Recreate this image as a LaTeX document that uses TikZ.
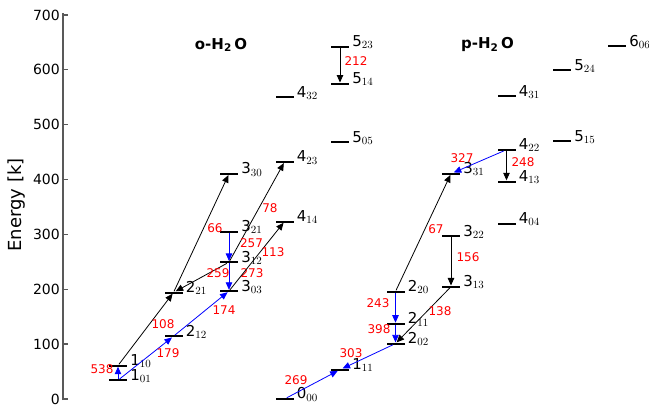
\documentclass[tikz,border=0pt]{standalone}
\usepackage{fontspec}
\setsansfont{DejaVu Sans}
\usetikzlibrary{arrows.meta}

\begin{document}
\begin{tikzpicture}[x=1pt, y=0.5486pt,
    every node/.style={font=\sffamily\fontsize{14}{16}\selectfont},
    lvl/.style={fill=black, minimum width=18pt, minimum height=2pt, inner sep=0pt},
    lvltxt/.style={anchor=base west, inner sep=0pt, font=\sffamily\fontsize{15}{17}\selectfont},
    tr/.style={-{Triangle[length=7.5pt,width=6.5pt]}, line width=0.8pt},
    wl/.style={text=red, inner sep=0pt, font=\sffamily\fontsize{12}{14}\selectfont},
    axis/.style={draw=black!65, line width=1.3pt}]
    \useasboundingbox (0pt,-7pt) rectangle (649pt,399pt);

    % energy axis
    \draw[axis] (63,-2) -- (63,703);
    \foreach \e in {0,100,...,700} {
        \draw[axis] (63,\e) -- (68,\e);
        \node[anchor=east, inner sep=0pt] (t\e) at (60,\e) {\e};
    }
    \node[rotate=90, font=\sffamily\fontsize{18}{20}\selectfont] (ylab) at (17,353.6) {Energy [k]};

    \node[font=\sffamily\bfseries\fontsize{15}{17}\selectfont] (otitle) at (221,645.3) {o-H\textsubscript{2}\,O};
    \node[font=\sffamily\bfseries\fontsize{15}{17}\selectfont] (ptitle) at (487.5,645.3) {p-H\textsubscript{2}\,O};

    % levels: name/x/energy/J/subscript
    \foreach \n/\x/\e/\j/\k in {o101/118/34.2/1/01, o110/118/61.0/1/10,
        o212/173.5/114.4/2/12, o221/173.5/194.1/2/21,
        o303/229/196.8/3/03, o312/229/249.4/3/12, o321/229/305.3/3/21, o330/229/410.4/3/30,
        o414/284.5/323.5/4/14, o423/284.5/432.2/4/23, o432/284.5/550.4/4/32,
        o505/340/468.1/5/05, o514/340/574.7/5/14, o523/340/642.4/5/23,
        p000/284.5/0/0/00, p111/340/53.4/1/11,
        p202/395.5/101.0/2/02, p211/395.5/136.9/2/11, p220/395.5/195.9/2/20,
        p313/451/204.7/3/13, p322/451/296.8/3/22, p331/451/410.7/3/31,
        p404/506.5/319.5/4/04, p413/506.5/396.4/4/13, p422/506.5/454.3/4/22, p431/506.5/552.3/4/31,
        p515/562/469.9/5/15, p524/562/598.8/5/24, p606/617/642.7/6/06} {
        \node[lvl] (\n) at (\x,\e) {};
        \node[lvltxt] (\n t) at ([xshift=3pt]\n.east) {\j$_{\k}$};
    }

    % o-H2O lines
    \draw[tr, blue] (o101) -- (o110) node[wl] (w538) at (102,54.7) {538};
    \draw[tr, blue] (o101) -- (o212) node[wl] (w179) at (168,83.9) {179};
    \draw[tr, blue] (o212) -- (o303) node[wl] (w174) at (224,162.2) {174};
    \draw[tr] (o110) -- (o221) node[wl] (w108) at (163,136.7) {108};
    \draw[tr] (o221) -- (o330) node[wl] (w66) at (215,310.8) {66};
    \draw[tr] (o312) -- (o221) node[wl] (w259) at (218,229.7) {259};
    \draw[tr] (o312) -- (o423) node[wl] (w78) at (270,347.6) {78};
    \draw[tr, blue] (o321) -- (o312) node[wl] (w257) at (251.5,283.8) {257};
    \draw[tr, blue] (o312) -- (o303) node[wl] (w273) at (252,229.7) {273};
    \draw[tr] (o303) -- (o414) node[wl] (w113) at (273,267.4) {113};
    \draw[tr] (o523) -- (o514) node[wl] (w212) at (356,616.1) {212};

    % p-H2O lines
    \draw[tr, blue] (p000) -- (p111) node[wl] (w269) at (296,34.6) {269};
    \draw[tr, blue] (p202) -- (p111) node[wl] (w303) at (351,83.9) {303};
    \draw[tr, blue] (p211) -- (p202) node[wl] (w398) at (379,127.6) {398};
    \draw[tr, blue] (p220) -- (p211) node[wl] (w243) at (378,175.0) {243};
    \draw[tr] (p313) -- (p202) node[wl] (w138) at (440,160.4) {138};
    \draw[tr] (p322) -- (p313) node[wl] (w156) at (468,258.8) {156};
    \draw[tr] (p220) -- (p331) node[wl] (w67) at (436,309.9) {67};
    \draw[tr, blue] (p422) -- (p331) node[wl] (w327) at (462,439.3) {327};
    \draw[tr] (p422) -- (p413) node[wl] (w248) at (523,432.0) {248};
\end{tikzpicture}
\end{document}
